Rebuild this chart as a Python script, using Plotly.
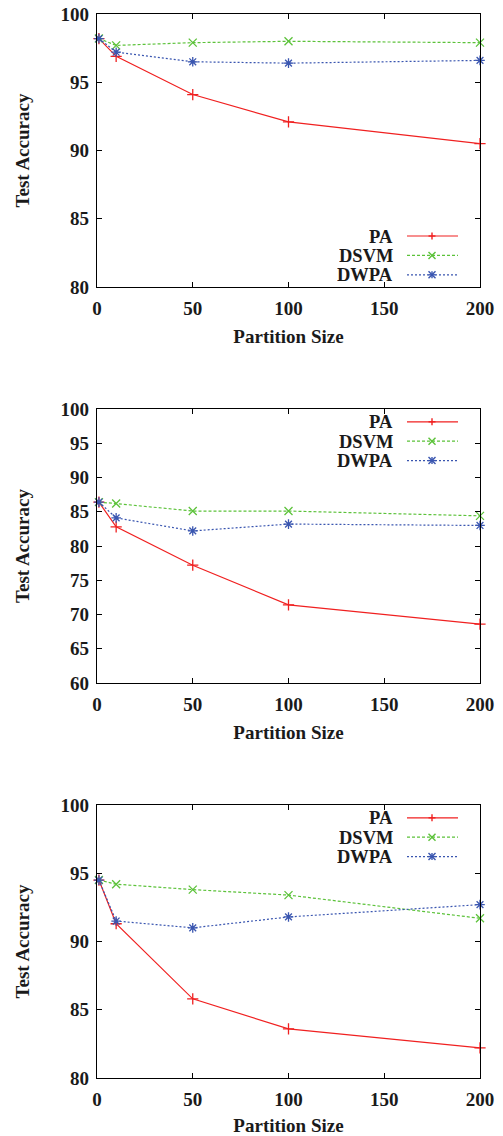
import plotly.graph_objects as go

# ---------------- data ----------------
partition_size = [1, 10, 50, 100, 200]
series_names = ["PA", "DSVM", "DWPA"]

pa_1 = [98.2, 96.9, 94.1, 92.1, 90.5]
dsvm_1 = [98.2, 97.7, 97.9, 98.0, 97.9]
dwpa_1 = [98.2, 97.2, 96.5, 96.4, 96.6]

pa_2 = [86.4, 82.8, 77.2, 71.4, 68.6]
dsvm_2 = [86.4, 86.2, 85.1, 85.1, 84.4]
dwpa_2 = [86.4, 84.1, 82.2, 83.2, 83.0]

pa_3 = [94.5, 91.3, 85.8, 83.6, 82.2]
dsvm_3 = [94.5, 94.2, 93.8, 93.4, 91.7]
dwpa_3 = [94.5, 91.5, 91.0, 91.8, 92.7]

y_ranges = [[80, 100], [60, 100], [80, 100]]
x_tickvals = [0, 50, 100, 150, 200]
x_title = "Partition Size"
y_title = "Test Accuracy"

panels = [(pa_1, dsvm_1, dwpa_1), (pa_2, dsvm_2, dwpa_2), (pa_3, dsvm_3, dwpa_3)]

# ---------------- style ----------------
W, H = 503, 1136
FONT = "Liberation Serif, Times New Roman, serif"
TXT = dict(family=FONT, size=19, color="#1a1a1a", weight="bold")
LEG = dict(family=FONT, size=18.5, color="#1a1a1a", weight="bold")
colors = ["#f02020", "#5cc23a", "#3a56b0"]
dashes = ["solid", "3px,2px", "2px,2px"]
symbols = ["cross-thin-open", "x-thin-open", "asterisk-open"]

# plot-area pixel boxes (top, bottom)
left_px, right_px = 97, 480
boxes = [(14, 287), (409, 683), (805, 1078)]
x_dom = [left_px / W, right_px / W]

fig = go.Figure()
layout = dict(
    width=W, height=H, margin=dict(l=0, r=0, t=0, b=0, autoexpand=False),
    paper_bgcolor="white", plot_bgcolor="white",
    showlegend=False,
    font=TXT,
)
shapes = []
annotations = []

for i, (vals, (top, bot)) in enumerate(zip(panels, boxes)):
    n = "" if i == 0 else str(i + 1)
    xa, ya = "x" + n, "y" + n
    for k in range(3):
        fig.add_trace(go.Scatter(
            x=partition_size, y=vals[k], name=series_names[k],
            xaxis=xa, yaxis=ya, mode="lines+markers",
            line=dict(color=colors[k], width=1.2, dash=dashes[k]),
            marker=dict(symbol=symbols[k], size=8, color=colors[k],
                        line=dict(color=colors[k], width=1.3)),
            cliponaxis=False,
        ))
    y_dom = [1 - bot / H, 1 - top / H]
    common = dict(showline=True, linecolor="black", linewidth=1.2, mirror="ticks",
                  ticks="inside", ticklen=5, tickcolor="black", showgrid=False,
                  zeroline=False, automargin=False, tickfont=TXT)
    layout["xaxis" + n] = dict(common, domain=x_dom, range=[0, 200], tickvals=x_tickvals,
                               anchor=ya, ticklabelstandoff=4,
                               title=dict(text=x_title, standoff=11, font=TXT))
    layout["yaxis" + n] = dict(common, domain=y_dom, range=y_ranges[i], dtick=5,
                               anchor=xa, ticklabelstandoff=3,
                               title=dict(text=y_title, standoff=25, font=TXT))

    # gnuplot-style legend: right-aligned text, sample line with marker to the right
    ph = bot - top
    step = 19.4
    if i == 0:
        first = 236 - top
    else:
        first = 12.8
    rows = [1 - (first + j * step) / ph for j in range(3)]
    xr, yr = xa + " domain", ya + " domain"
    tx = (394 - left_px) / (right_px - left_px)
    lx0 = (407 - left_px) / (right_px - left_px)
    lx1 = (458 - left_px) / (right_px - left_px)
    mx = (432 - left_px) / (right_px - left_px)
    for k in range(3):
        yy = rows[k]
        annotations.append(dict(text=series_names[k], xref=xr, yref=yr, x=tx, y=yy,
                                xanchor="right", yanchor="middle", showarrow=False,
                                height=17, borderpad=0, valign="middle",
                                font=LEG))
        shapes.append(dict(type="line", xref=xr, yref=yr, x0=lx0, x1=lx1, y0=yy, y1=yy,
                           line=dict(color=colors[k], width=1.2, dash=dashes[k])))
        s = 3.5
        if k == 0:
            segs = [(-s, 0, s, 0), (0, -s, 0, s)]
        elif k == 1:
            segs = [(-s, -s, s, s), (-s, s, s, -s)]
        else:
            segs = [(-s, 0, s, 0), (0, -s, 0, s), (-s, -s, s, s), (-s, s, s, -s)]
        for (a, b, c, d) in segs:
            shapes.append(dict(type="line", xref=xr, yref=yr,
                               xsizemode="pixel", ysizemode="pixel",
                               xanchor=mx, yanchor=yy,
                               x0=a, x1=c, y0=b, y1=d,
                               line=dict(color=colors[k], width=1.4)))

layout["shapes"] = shapes
layout["annotations"] = annotations
fig.update_layout(**layout)
fig.write_html(
    "out.html",
    config={"displayModeBar": False},
    post_script="document.body.style.margin='0';document.body.style.overflow='hidden';",
)
